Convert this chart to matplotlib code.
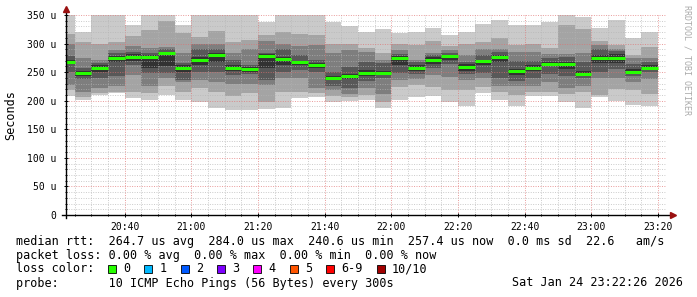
"""SmokePing style latency chart: smoke bands + median rtt, rrdtool look."""
import numpy as np
import pandas as pd
import matplotlib
matplotlib.use("Agg")
import matplotlib.pyplot as plt
import matplotlib.dates as mdates
from matplotlib.patches import Rectangle

# 5-minute steps (the first one is cut by the left edge of the graph)
step_start = pd.date_range("2026-01-24 20:20", periods=36, freq="5min")
view_start = pd.Timestamp("2026-01-24 20:22:26")
view_end = pd.Timestamp("2026-01-24 23:22:26")

# 10 sorted ping rtts per step, microseconds
pings = [
    [208, 218, 228, 250, 264, 272, 278, 300, 317, 360],
    [201, 206, 216, 238, 244, 252, 257, 274, 302, 320],
    [210, 213, 222, 240, 250, 262, 266, 272, 300, 360],
    [213, 216, 226, 243, 268, 279, 284, 289, 303, 360],
    [204, 216, 245, 262, 270, 282, 286, 295, 313, 332],
    [201, 213, 225, 249, 258, 280, 284, 292, 324, 360],
    [210, 226, 240, 248, 260, 285, 290, 294, 340, 360],
    [202, 216, 232, 236, 250, 262, 266, 283, 318, 332],
    [198, 222, 236, 250, 262, 276, 290, 300, 312, 360],
    [188, 216, 232, 250, 268, 284, 290, 300, 322, 360],
    [183, 208, 230, 245, 252, 262, 272, 283, 302, 360],
    [184, 213, 230, 246, 251, 259, 263, 290, 307, 360],
    [185, 197, 228, 236, 258, 281, 284, 305, 315, 337],
    [188, 216, 240, 250, 262, 276, 290, 300, 320, 360],
    [204, 216, 240, 254, 263, 270, 280, 295, 317, 360],
    [206, 213, 222, 250, 258, 266, 271, 297, 315, 360],
    [197, 208, 218, 225, 236, 244, 250, 283, 300, 337],
    [200, 206, 212, 222, 238, 247, 259, 288, 299, 330],
    [202, 210, 222, 234, 244, 254, 268, 286, 292, 320],
    [188, 198, 212, 240, 245, 252, 266, 272, 283, 326],
    [202, 224, 236, 248, 262, 278, 282, 289, 300, 319],
    [206, 227, 238, 246, 252, 262, 268, 271, 297, 321],
    [208, 224, 245, 258, 265, 276, 280, 283, 305, 328],
    [198, 219, 242, 265, 272, 280, 284, 288, 295, 315],
    [191, 218, 236, 246, 252, 264, 268, 280, 300, 320],
    [213, 224, 240, 248, 262, 272, 280, 290, 302, 334],
    [202, 216, 225, 240, 268, 280, 285, 290, 309, 341],
    [191, 210, 225, 235, 245, 256, 270, 285, 298, 332],
    [208, 216, 225, 240, 252, 262, 270, 285, 300, 332],
    [208, 216, 233, 247, 260, 268, 275, 282, 292, 338],
    [198, 212, 222, 244, 256, 268, 276, 282, 332, 360],
    [188, 215, 225, 240, 244, 252, 268, 283, 326, 346],
    [206, 210, 239, 251, 266, 280, 290, 298, 304, 328],
    [200, 220, 240, 255, 266, 282, 287, 290, 298, 341],
    [192, 218, 232, 244, 249, 255, 265, 275, 280, 309],
    [191, 212, 238, 250, 254, 262, 268, 275, 294, 321],
]

median_rtt = [268, 248.5, 257, 274, 276, 277, 283, 257, 271, 279.5,
              257, 255, 279, 272.5, 267, 262, 240.3, 243, 249, 248,
              275, 257, 271, 277.5, 258.5, 269, 276, 252.5, 257, 264,
              263.5, 247.5, 274, 275, 251, 256.7]

y_ticks = [0, 50, 100, 150, 200, 250, 300, 350]
y_tick_labels = ["0", "50 u", "100 u", "150 u", "200 u", "250 u", "300 u", "350 u"]

loss_labels = ["0", "1", "2", "3", "4", "5", "6-9", "10/10"]
loss_colors = ["#26ff00", "#00b8ff", "#0059ff", "#7e00ff", "#ff00ff",
               "#ff5500", "#ff0000", "#a10000"]

legend_lines = [
    "median rtt:  264.7 us avg  284.0 us max  240.6 us min  257.4 us now  0.0 ms sd  22.6   am/s",
    "packet loss: 0.00 % avg  0.00 % max  0.00 % min  0.00 % now",
    "loss color:",
    "probe:       10 ICMP Echo Pings (56 Bytes) every 300s",
]
stamp = "Sat Jan 24 23:22:26 2026"

# smoke shades, outer pair lightest, middle darkest
smoke = ["#cacaca", "#a4a4a4", "#7e7e7e", "#585858", "#323232",
         "#585858", "#7e7e7e", "#a4a4a4", "#cacaca"]

MONO = "DejaVu Sans Mono"
W, H = 697, 297

fig = plt.figure(figsize=(W / 100, H / 100), dpi=100)
fig.patch.set_facecolor("white")
ax = fig.add_axes([66 / W, (H - 215) / H, 600 / W, 200 / H])

x0 = mdates.date2num(step_start)
width = 5 / 1440.0
p = np.array(pings, dtype=float)
for j in range(9):
    ax.bar(x0, p[:, j + 1] - p[:, j], bottom=p[:, j], width=width,
           align="edge", color=smoke[j], linewidth=0, zorder=1)

ax.hlines(median_rtt, x0, x0 + width, color=loss_colors[0], linewidth=2.2, zorder=3)

ax.set_xlim(mdates.date2num(view_start), mdates.date2num(view_end))
ax.set_ylim(0, 350)

# grid
ax.set_yticks(y_ticks)
ax.set_yticklabels(y_tick_labels)
ax.set_yticks(np.arange(0, 351, 10), minor=True)
ax.xaxis.set_major_locator(mdates.MinuteLocator(byminute=[0, 20, 40]))
ax.xaxis.set_minor_locator(mdates.MinuteLocator(byminute=range(0, 60, 5)))
ax.xaxis.set_major_formatter(mdates.DateFormatter("%H:%M"))
ax.set_axisbelow(False)
ax.grid(which="minor", color="#b4b4b4", alpha=0.7, linewidth=0.7, linestyle=(0, (1, 1.5)))
ax.grid(which="major", color="#e07070", alpha=0.7, linewidth=0.7, linestyle=(0, (1, 1.5)))

for s in ax.spines.values():
    s.set_visible(False)
ax.tick_params(which="both", direction="inout", width=0.7, color="black")
ax.tick_params(which="major", length=3.5, labelsize=7)
ax.tick_params(which="minor", length=2)
ax.tick_params(axis="y", pad=5)
ax.tick_params(axis="x", pad=3)
for lab in ax.get_xticklabels() + ax.get_yticklabels():
    lab.set_family(MONO)

# axis lines with rrdtool arrows
ax.plot([0, 0], [-0.015, 1.02], transform=ax.transAxes, color="black",
        linewidth=1, clip_on=False, zorder=4)
ax.plot([-0.007, 1.008], [0, 0], transform=ax.transAxes, color="black",
        linewidth=1, clip_on=False, zorder=4)
ax.plot(0, 1.03, marker="^", markersize=4.5, color="#9a1010",
        transform=ax.transAxes, clip_on=False, zorder=5)
ax.plot(1.011, 0, marker=">", markersize=4.5, color="#9a1010",
        transform=ax.transAxes, clip_on=False, zorder=5)

fig.text(11 / W, 1 - 115 / H, "Seconds", rotation=90, ha="center", va="center",
         family=MONO, fontsize=8.5)
fig.text(687 / W, 1 - 5 / H, "RRDTOOL / TOBI OETIKER", rotation=-90, ha="center",
         va="top", family=MONO, fontsize=6, color="#aaaaaa")

# legend block
row_y = [241, 255, 269, 283]
for txt, yy in zip(legend_lines, row_y):
    fig.text(16 / W, 1 - yy / H, txt, ha="left", va="center", family=MONO, fontsize=8.5)
fig.text(683 / W, 1 - row_y[3] / H, stamp, ha="right", va="center", family=MONO, fontsize=8.5)

cw = 7.11  # mono char width in px
xs = 108.0
for lab, col in zip(loss_labels, loss_colors):
    fig.add_artist(Rectangle((xs / W, 1 - (row_y[2] + 4) / H), 8 / W, 8 / H,
                             transform=fig.transFigure, facecolor=col,
                             edgecolor="black", linewidth=0.6))
    fig.text((xs + 15) / W, 1 - row_y[2] / H, lab, ha="left", va="center",
             family=MONO, fontsize=8.5)
    xs += 15 + (len(lab) + 2) * cw

fig.savefig("out.png", dpi=100)
